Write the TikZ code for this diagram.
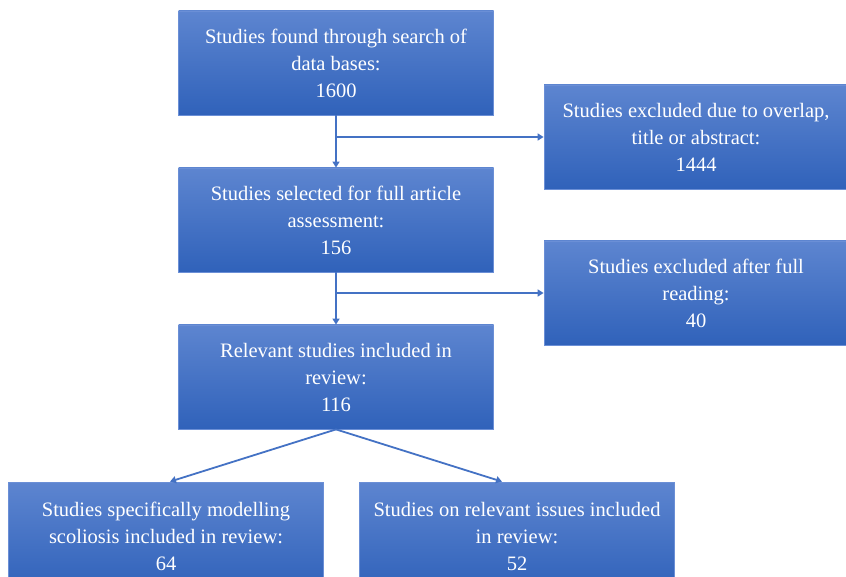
\documentclass[tikz,border=0pt]{standalone}
\usepackage{fontspec}
\setmainfont{Liberation Serif}
\usetikzlibrary{arrows.meta}
\definecolor{boxtop}{HTML}{5D85D0}
\definecolor{boxbot}{HTML}{3062BA}
\definecolor{boxline}{HTML}{6B8FD6}
\definecolor{arr}{HTML}{4472C4}
\tikzset{
  flowbox/.style={rectangle, top color=boxtop, bottom color=boxbot, draw=boxline, line width=0.8pt,
    text=white, align=center, inner sep=0pt, minimum width=#1, minimum height=104pt,
    font=\fontsize{20.5}{27}\selectfont},
  flowbox/.default=315pt,
  conn/.style={draw=arr, line width=1.8pt, -{Triangle[width=7pt,length=6pt]}},
  plain/.style={draw=arr, line width=1.8pt}
}
\begin{document}
\begin{tikzpicture}[x=1pt,y=-1pt]
\useasboundingbox (0,0) rectangle (846,577);
\node[flowbox] (n1) at (336,63) {Studies found through search of\\data bases:\\1600};
\node[flowbox=304pt] (x1) at (696,137) {Studies excluded due to overlap,\\title or abstract:\\1444};
\node[flowbox] (n2) at (336,220) {Studies selected for full article\\assessment:\\156};
\node[flowbox=304pt] (x2) at (696,293) {Studies excluded after full\\reading:\\40};
\node[flowbox] (n3) at (336,377) {Relevant studies included in\\review:\\116};
\node[flowbox=315pt,minimum height=108pt] (b1) at (166,536) {Studies specifically modelling\\scoliosis included in review:\\64};
\node[flowbox=315pt,minimum height=108pt] (b2) at (517,536) {Studies on relevant issues included\\in review:\\52};
\coordinate (j1) at (n1.south |- x1.west);
\coordinate (j2) at (n2.south |- x2.west);
\draw[conn] (n1.south) -- (n2.north);
\draw[conn] (j1) -- (x1.west);
\draw[conn] (n2.south) -- (n3.north);
\draw[conn] (j2) -- (x2.west);
\draw[conn] (n3.south) -- ([xshift=4pt]b1.north);
\draw[conn] (n3.south) -- ([xshift=-15pt]b2.north);
\end{tikzpicture}
\end{document}
